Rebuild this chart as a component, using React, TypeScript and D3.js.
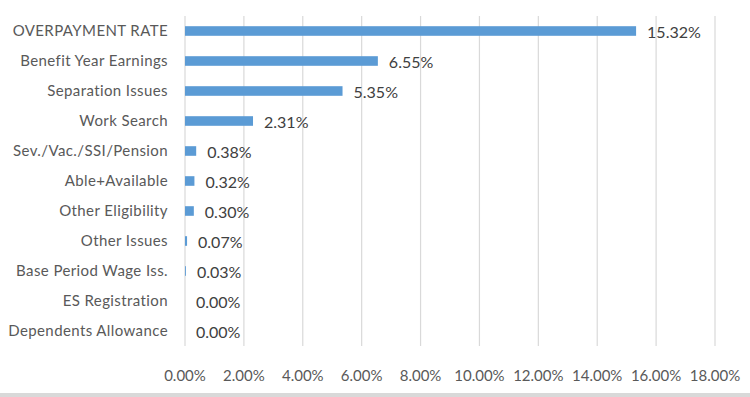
import { useEffect, useRef } from "react";
import * as d3 from "d3";

const categories = [
  "OVERPAYMENT RATE",
  "Benefit Year Earnings",
  "Separation Issues",
  "Work Search",
  "Sev./Vac./SSI/Pension",
  "Able+Available",
  "Other Eligibility",
  "Other Issues",
  "Base Period Wage Iss.",
  "ES Registration",
  "Dependents Allowance",
];
const rates = [15.32, 6.55, 5.35, 2.31, 0.38, 0.32, 0.3, 0.07, 0.03, 0.0, 0.0];
const xTicks = [0, 2, 4, 6, 8, 10, 12, 14, 16, 18];

const W = 750;
const H = 397;

const App: React.FC = () => {
  const svgRef = useRef<SVGSVGElement>(null);

  useEffect(() => {
    const svg = d3.select(svgRef.current);
    svg.selectAll("*").remove();

    const font = "Lato, 'Open Sans', sans-serif";
    const x = d3.scaleLinear().domain([0, 18]).range([185, 715]);
    const y = d3.scaleBand().domain(categories).range([16, 346]).paddingInner(0.68).paddingOuter(0.34);

    svg.append("rect").attr("x", 0).attr("y", 0).attr("width", W).attr("height", H).attr("fill", "#fff");
    svg.append("rect").attr("x", 0).attr("y", 393).attr("width", W).attr("height", 4).attr("fill", "#d9d9d9");

    // gridlines
    svg.append("g")
      .selectAll("line")
      .data(xTicks)
      .enter()
      .append("line")
      .attr("x1", (d) => x(d))
      .attr("x2", (d) => x(d))
      .attr("y1", 16)
      .attr("y2", 346)
      .attr("stroke", "#d9d9d9")
      .attr("stroke-width", 1.2);

    // x tick labels
    svg.append("g")
      .selectAll("text")
      .data(xTicks)
      .enter()
      .append("text")
      .attr("x", (d) => x(d))
      .attr("y", 381)
      .attr("text-anchor", "middle")
      .attr("font-family", font)
      .attr("font-size", 15)
      .attr("fill", "#595959")
      .text((d) => d.toFixed(2) + "%");

    // category labels
    svg.append("g")
      .selectAll("text")
      .data(categories)
      .enter()
      .append("text")
      .attr("x", 168)
      .attr("y", (d) => (y(d) as number) + y.bandwidth() / 2)
      .attr("dy", "0.35em")
      .attr("text-anchor", "end")
      .attr("font-family", font)
      .attr("font-size", 15)
      .attr("letter-spacing", 0.4)
      .attr("fill", "#595959")
      .text((d) => d);

    // bars
    svg.append("g")
      .selectAll("rect")
      .data(rates)
      .enter()
      .append("rect")
      .attr("x", x(0))
      .attr("y", (_, i) => y(categories[i]) as number)
      .attr("width", (d) => x(d) - x(0))
      .attr("height", y.bandwidth())
      .attr("fill", "#5b9bd5");

    // value labels
    svg.append("g")
      .selectAll("text")
      .data(rates)
      .enter()
      .append("text")
      .attr("x", (d) => x(d) + 11)
      .attr("y", (_, i) => (y(categories[i]) as number) + y.bandwidth() / 2 + 1.5)
      .attr("dy", "0.35em")
      .attr("font-family", font)
      .attr("font-size", 16)
      .attr("fill", "#404040")
      .text((d) => d.toFixed(2) + "%");
  }, []);

  return <svg ref={svgRef} width={W} height={H} style={{ display: "block", position: "absolute", left: 0, top: 0 }}></svg>;
};

export default App;
